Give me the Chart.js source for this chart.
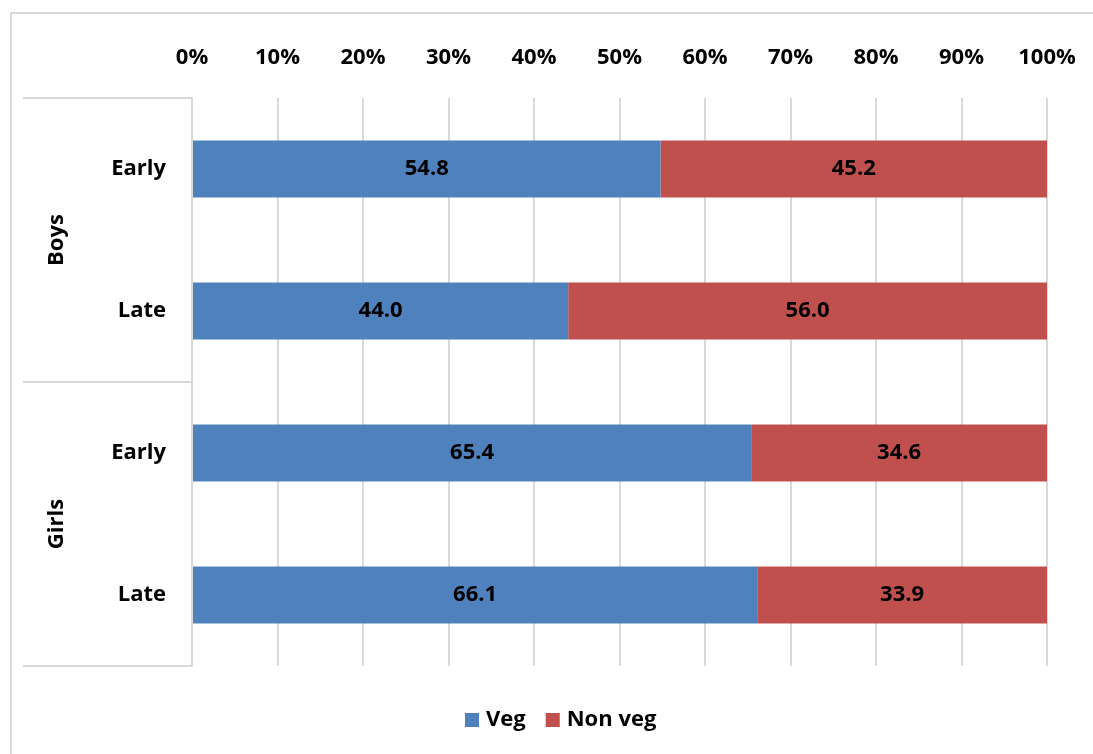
<!DOCTYPE html>
<html>
<head>
<meta charset="utf-8">
<script src="https://cdn.jsdelivr.net/npm/chart.js@4"></script>
<style>
html,body{margin:0;padding:0;background:#fff;}
#wrap{width:1093px;height:754px;position:relative;}
</style>
</head>
<body>
<div id="wrap"><canvas id="c" width="1093" height="754"></canvas></div>
<script>
const categories = ["Early", "Late", "Early", "Late"];
const groups = ["Boys", "Girls"];
const groupSpans = [[0, 1], [2, 3]];
const vegValues = [54.8, 44.0, 65.4, 66.1];
const nonVegValues = [45.2, 56.0, 34.6, 33.9];
const xTicks = [0, 10, 20, 30, 40, 50, 60, 70, 80, 90, 100];

const FONT = "'Open Sans'";
const FSIZE = 22;
const gridColor = "#d9d9d9";

const decorPlugin = {
  id: "decor",
  beforeDraw(chart) {
    const ctx = chart.ctx;
    ctx.save();
    ctx.fillStyle = "#fff";
    ctx.fillRect(0, 0, chart.width, chart.height);
    ctx.strokeStyle = gridColor;
    ctx.lineWidth = 2;
    ctx.strokeRect(11, 13, 1200, 900);
    ctx.restore();
  },
  afterDraw(chart) {
    const ctx = chart.ctx;
    const y = chart.scales.y;
    const area = chart.chartArea;
    ctx.save();
    ctx.strokeStyle = gridColor;
    ctx.lineWidth = 2;
    const half = (y.getPixelForValue(1) - y.getPixelForValue(0)) / 2;
    const bounds = [y.getPixelForValue(0) - half, y.getPixelForValue(1) + half, y.getPixelForValue(3) + half];
    bounds.forEach(b => {
      ctx.beginPath();
      ctx.moveTo(23, Math.round(b));
      ctx.lineTo(area.left, Math.round(b));
      ctx.stroke();
    });
    ctx.fillStyle = "#000";
    ctx.font = "bold " + FSIZE + "px " + FONT;
    ctx.textAlign = "center";
    ctx.textBaseline = "middle";
    groups.forEach((g, i) => {
      const cy = (y.getPixelForValue(groupSpans[i][0]) + y.getPixelForValue(groupSpans[i][1])) / 2;
      ctx.save();
      ctx.translate(57, cy);
      ctx.rotate(-Math.PI / 2);
      ctx.fillText(g, 0, 0);
      ctx.restore();
    });
    chart.data.datasets.forEach((ds, di) => {
      const meta = chart.getDatasetMeta(di);
      meta.data.forEach((bar, i) => {
        const p = bar.getProps(["x", "y", "base"], true);
        const cx = (p.x + p.base) / 2;
        ctx.fillText(ds.data[i].toFixed(1), cx, p.y);
      });
    });
    ctx.textAlign = "left";
    const items = chart.data.datasets.map(d => ({ label: d.label, color: d.backgroundColor }));
    const box = 14, gapBox = 7, gapItem = 20;
    let x = 465;
    const ly = 720;
    items.forEach(it => {
      ctx.fillStyle = it.color;
      ctx.fillRect(x, ly - 7, box, box);
      x += box + gapBox;
      ctx.fillStyle = "#000";
      ctx.fillText(it.label, x, ly);
      x += ctx.measureText(it.label).width + gapItem;
    });
    ctx.restore();
  }
};

new Chart(document.getElementById("c"), {
  type: "bar",
  data: {
    labels: categories,
    datasets: [
      { label: "Veg", data: vegValues, backgroundColor: "#4f81bd", borderWidth: 0 },
      { label: "Non veg", data: nonVegValues, backgroundColor: "#c0504d", borderWidth: 0 }
    ]
  },
  options: {
    indexAxis: "y",
    responsive: false,
    animation: false,
    events: [],
    layout: { padding: { left: 0, right: 46, top: 0, bottom: 88 } },
    datasets: { bar: { barPercentage: 0.4, categoryPercentage: 1.0 } },
    plugins: { legend: { display: false }, tooltip: { enabled: false } },
    scales: {
      x: {
        position: "top",
        stacked: true,
        min: 0,
        max: 100,
        afterBuildTicks(scale) { scale.ticks = xTicks.map(v => ({ value: v })); },
        afterFit(scale) { scale.height = 98; scale.paddingLeft = 0; scale.paddingRight = 0; },
        ticks: {
          callback: v => v + "%",
          color: "#000",
          font: { family: FONT, size: FSIZE, weight: "bold" },
          padding: 27,
          maxRotation: 0
        },
        grid: { color: gridColor, lineWidth: 2, drawTicks: false },
        border: { display: false }
      },
      y: {
        stacked: true,
        afterFit(scale) { scale.width = 192; scale.paddingTop = 0; scale.paddingBottom = 0; },
        ticks: {
          color: "#000",
          font: { family: FONT, size: FSIZE, weight: "bold" },
          padding: 26
        },
        grid: { display: false, drawTicks: false },
        border: { display: true, color: gridColor, width: 2 }
      }
    }
  },
  plugins: [decorPlugin]
});
</script>
</body>
</html>
